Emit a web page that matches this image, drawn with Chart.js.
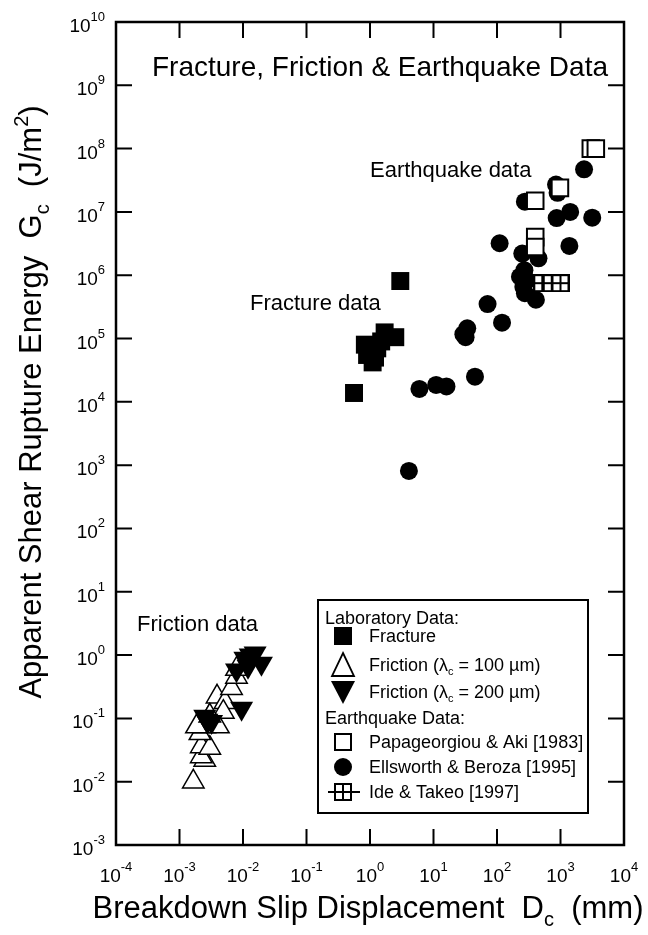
<!DOCTYPE html>
<html>
<head>
<meta charset="utf-8">
<script src="https://cdn.jsdelivr.net/npm/chart.js@4.4.1/dist/chart.umd.min.js"></script>
<style>
  html, body { margin: 0; padding: 0; background: #fff; }
  canvas { display: block; }
</style>
</head>
<body>
<canvas id="c" width="648" height="935"></canvas>
<script>
const FONT = '"Liberation Sans", Arial, Helvetica, sans-serif';

// Decade exponents used for ticks and labels
const xDecades = [-4, -3, -2, -1, 0, 1, 2, 3, 4];
const yDecades = [-3, -2, -1, 0, 1, 2, 3, 4, 5, 6, 7, 8, 9, 10];

// Laboratory data: fracture (Dc in mm, Gc in J/m^2)
const fractureDc = [3.0, 0.56, 1.7, 2.5, 0.83, 1.1, 0.9, 1.3, 1.5, 1.0, 1.2];
const fractureGc = [8.1e5, 1.38e4, 1.25e5, 1.05e5, 8.0e4, 4.2e4, 5.5e4, 7.0e4, 9.0e4, 6.5e4, 5.0e4];

// Laboratory data: friction, lambda_c = 100 um
const friction100Dc = [1.65e-3, 2.5e-3, 2.2e-3, 2.2e-3, 3.0e-3, 2.1e-3, 2.5e-3, 1.85e-3, 4.1e-3,
                       3.6e-3, 3.9e-3, 5.2e-3, 4.9e-3, 6.6e-3, 7.9e-3, 7.9e-3, 3.0e-3];
const friction100Gc = [1.0e-2, 2.2e-2, 2.5e-2, 3.6e-2, 3.4e-2, 5.8e-2, 7.4e-2, 7.4e-2, 7.4e-2,
                       0.15, 0.22, 0.18, 0.126, 0.30, 0.45, 0.60, 0.11];

// Laboratory data: friction, lambda_c = 200 um
const friction200Dc = [2.7e-3, 2.5e-3, 3.2e-3, 9.5e-3, 7.9e-3, 1.07e-2, 1.55e-2, 1.95e-2, 1.2e-2, 1.3e-2];
const friction200Gc = [0.093, 0.107, 0.089, 0.144, 0.58, 0.89, 1.07, 0.74, 0.66, 1.0];

// Earthquake data: Papageorgiou & Aki [1983]
const papaDc = [3000, 3600, 980, 400, 400, 400];
const papaGc = [1.0e8, 1.0e8, 2.4e7, 1.5e7, 4.0e6, 2.8e6];

// Earthquake data: Ellsworth & Beroza [1995]
const ellsDc = [2350, 850, 900, 275, 870, 1420, 3160, 110, 1380, 250, 450, 270, 230, 295, 260, 275,
                410, 71, 120, 34, 29.5, 32, 45, 6.0, 11, 16, 4.1];
const ellsGc = [4.7e7, 2.7e7, 2.0e7, 1.45e7, 8.0e6, 1.0e7, 8.1e6, 3.2e6, 2.9e6, 2.2e6, 1.85e6, 1.2e6,
                9.5e5, 8.3e5, 6.5e5, 5.2e5, 4.1e5, 3.5e5, 1.78e5, 1.45e5, 1.17e5, 1.05e5, 2.5e4,
                1.6e4, 1.85e4, 1.75e4, 8.1e2];

// Earthquake data: Ide & Takeo [1997]
const ideDc = [516, 728, 1000];
const ideGc = [7.5e5, 7.5e5, 7.5e5];

const toPoints = (xs, ys) => xs.map((x, i) => ({ x: x, y: ys[i] }));

// Square-with-cross marker
function gridMarker(size) {
  const c = document.createElement('canvas');
  c.width = size; c.height = size;
  const g = c.getContext('2d');
  g.fillStyle = '#fff';
  g.fillRect(0, 0, size, size);
  g.strokeStyle = '#000';
  g.lineWidth = 2;
  g.strokeRect(1, 1, size - 2, size - 2);
  g.beginPath();
  g.moveTo(size / 2, 1); g.lineTo(size / 2, size - 1);
  g.moveTo(1, size / 2); g.lineTo(size - 1, size / 2);
  g.stroke();
  return c;
}
const ideMarker = gridMarker(18);

function drawRich(ctx, parts, x, y, align) {
  let w = 0;
  for (const p of parts) { ctx.font = p[1] + 'px ' + FONT; w += ctx.measureText(p[0]).width; }
  let cx = align === 'center' ? x - w / 2 : (align === 'right' ? x - w : x);
  ctx.textAlign = 'left';
  ctx.textBaseline = 'alphabetic';
  for (const p of parts) {
    ctx.font = p[1] + 'px ' + FONT;
    ctx.fillText(p[0], cx, y + (p[2] || 0));
    cx += ctx.measureText(p[0]).width;
  }
  return w;
}

function powLabel(exp) {
  return [['10', 19, 0], [exp < 0 ? '-' + Math.abs(exp) : String(exp), 13, -11]];
}

const framePlugin = {
  id: 'frame',
  afterDraw(chart) {
    const ctx = chart.ctx;
    const ca = chart.chartArea;
    const xs = chart.scales.x, ys = chart.scales.y;
    ctx.save();
    ctx.fillStyle = '#000';
    ctx.strokeStyle = '#000';

    // inward ticks on all four sides
    ctx.lineWidth = 2;
    ctx.beginPath();
    for (const d of xDecades) {
      const px = xs.getPixelForValue(Math.pow(10, d));
      if (px > ca.left + 1 && px < ca.right - 1) {
        ctx.moveTo(px, ca.bottom); ctx.lineTo(px, ca.bottom - 16);
        ctx.moveTo(px, ca.top); ctx.lineTo(px, ca.top + 16);
      }
    }
    for (const d of yDecades) {
      const py = ys.getPixelForValue(Math.pow(10, d));
      if (py > ca.top + 1 && py < ca.bottom - 1) {
        ctx.moveTo(ca.left, py); ctx.lineTo(ca.left + 16, py);
        ctx.moveTo(ca.right, py); ctx.lineTo(ca.right - 16, py);
      }
    }
    ctx.stroke();

    // frame
    ctx.lineWidth = 2.5;
    ctx.strokeRect(ca.left, ca.top, ca.right - ca.left, ca.bottom - ca.top);

    // tick labels
    for (const d of xDecades) {
      const px = xs.getPixelForValue(Math.pow(10, d));
      drawRich(ctx, powLabel(d), px, ca.bottom + 37, 'center');
    }
    for (const d of yDecades) {
      const py = ys.getPixelForValue(Math.pow(10, d));
      drawRich(ctx, powLabel(d), ca.left - 11, py + 10, 'right');
    }

    // axis titles
    drawRich(ctx, [['Breakdown Slip Displacement  D', 31, 0], ['c', 20, 8], ['  (mm)', 31, 0]],
             368, 918, 'center');
    ctx.save();
    ctx.translate(41, 402);
    ctx.rotate(-Math.PI / 2);
    drawRich(ctx, [['Apparent Shear Rupture Energy  G', 31, 0], ['c', 20, 8], ['  (J/m', 31, 0],
                   ['2', 20, -13], [')', 31, 0]], 0, 0, 'center');
    ctx.restore();

    // in-plot text
    drawRich(ctx, [['Fracture, Friction & Earthquake Data', 28, 0]], 380, 76, 'center');
    drawRich(ctx, [['Earthquake data', 22, 0]], 370, 177, 'left');
    drawRich(ctx, [['Fracture data', 22, 0]], 250, 310, 'left');
    drawRich(ctx, [['Friction data', 22, 0]], 137, 631, 'left');

    // legend
    const L = { x: 318, y: 600, w: 270, h: 213 };
    ctx.fillStyle = '#fff';
    ctx.fillRect(L.x, L.y, L.w, L.h);
    ctx.lineWidth = 2;
    ctx.strokeRect(L.x, L.y, L.w, L.h);
    ctx.fillStyle = '#000';
    const fs = 18;
    const mx = 343, tx = 369;
    drawRich(ctx, [['Laboratory Data:', fs, 0]], 325, 624, 'left');
    // fracture
    ctx.fillRect(mx - 9, 636 - 9, 18, 18);
    drawRich(ctx, [['Fracture', fs, 0]], tx, 642, 'left');
    // friction 100
    ctx.beginPath();
    ctx.moveTo(mx, 653); ctx.lineTo(mx + 11, 676); ctx.lineTo(mx - 11, 676); ctx.closePath();
    ctx.fillStyle = '#fff'; ctx.fill();
    ctx.lineWidth = 1.8; ctx.stroke();
    ctx.fillStyle = '#000';
    drawRich(ctx, [['Friction (\u03BB', fs, 0], ['c', 11, 4], [' = 100 \u00B5m)', fs, 0]], tx, 671, 'left');
    // friction 200
    ctx.beginPath();
    ctx.moveTo(mx - 12, 681); ctx.lineTo(mx + 12, 681); ctx.lineTo(mx, 704); ctx.closePath();
    ctx.fill();
    drawRich(ctx, [['Friction (\u03BB', fs, 0], ['c', 11, 4], [' = 200 \u00B5m)', fs, 0]], tx, 698, 'left');
    drawRich(ctx, [['Earthquake Data:', fs, 0]], 325, 724, 'left');
    // Papageorgiou & Aki
    ctx.lineWidth = 2;
    ctx.strokeRect(mx - 8, 742 - 8, 16, 16);
    drawRich(ctx, [['Papageorgiou & Aki [1983]', fs, 0]], tx, 748, 'left');
    // Ellsworth & Beroza
    ctx.beginPath();
    ctx.arc(mx, 767, 9, 0, Math.PI * 2);
    ctx.fill();
    drawRich(ctx, [['Ellsworth & Beroza [1995]', fs, 0]], tx, 773, 'left');
    // Ide & Takeo
    ctx.beginPath();
    ctx.moveTo(328, 792); ctx.lineTo(360, 792);
    ctx.stroke();
    ctx.strokeRect(mx - 8, 792 - 8, 16, 16);
    ctx.beginPath();
    ctx.moveTo(mx, 784); ctx.lineTo(mx, 800);
    ctx.stroke();
    drawRich(ctx, [['Ide & Takeo [1997]', fs, 0]], tx, 798, 'left');

    ctx.restore();
  }
};

new Chart(document.getElementById('c').getContext('2d'), {
  type: 'scatter',
  data: {
    datasets: [
      { label: 'Papageorgiou & Aki [1983]', data: toPoints(papaDc, papaGc), order: 0,
        pointStyle: 'rect', pointRadius: 11.7, pointBackgroundColor: '#fff',
        pointBorderColor: '#000', pointBorderWidth: 2 },
      { label: 'Ide & Takeo [1997]', data: toPoints(ideDc, ideGc), order: 1,
        pointStyle: ideMarker, pointRadius: 9 },
      { label: 'Ellsworth & Beroza [1995]', data: toPoints(ellsDc, ellsGc), order: 2,
        pointStyle: 'circle', pointRadius: 9, pointBackgroundColor: '#000',
        pointBorderColor: '#000', pointBorderWidth: 0 },
      { label: 'Fracture', data: toPoints(fractureDc, fractureGc), order: 3,
        pointStyle: 'rect', pointRadius: 12.7, pointBackgroundColor: '#000',
        pointBorderColor: '#000', pointBorderWidth: 0 },
      { label: 'Friction (\u03BBc = 200 \u00B5m)', data: toPoints(friction200Dc, friction200Gc), order: 4,
        pointStyle: 'triangle', pointRotation: 180, pointRadius: 13.3, pointBackgroundColor: '#000',
        pointBorderColor: '#000', pointBorderWidth: 0 },
      { label: 'Friction (\u03BBc = 100 \u00B5m)', data: toPoints(friction100Dc, friction100Gc), order: 5,
        pointStyle: 'triangle', pointRadius: 12.4, pointBackgroundColor: '#fff',
        pointBorderColor: '#000', pointBorderWidth: 1.5 }
    ]
  },
  options: {
    responsive: false,
    animation: false,
    events: [],
    layout: { padding: { left: 116, right: 24, top: 22, bottom: 90 } },
    plugins: { legend: { display: false }, tooltip: { enabled: false } },
    scales: {
      x: { type: 'logarithmic', min: 1e-4, max: 1e4, display: false },
      y: { type: 'logarithmic', min: 1e-3, max: 1e10, display: false }
    }
  },
  plugins: [framePlugin]
});
</script>
</body>
</html>
